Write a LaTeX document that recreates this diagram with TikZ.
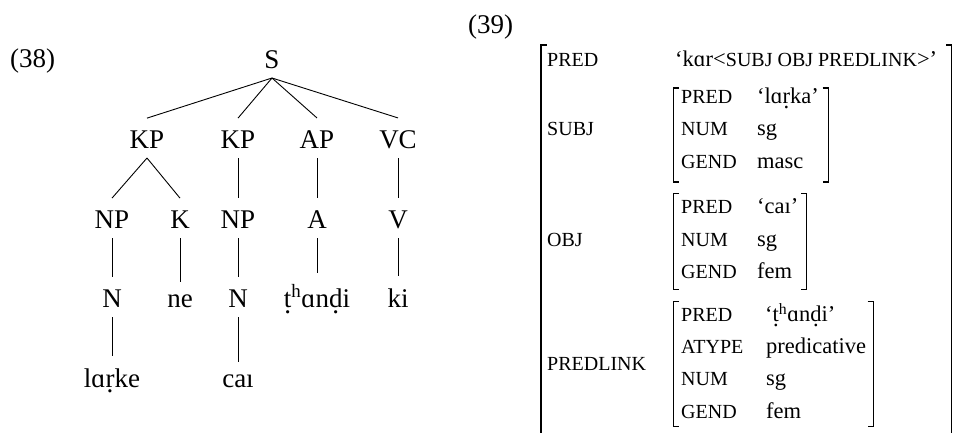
\documentclass[tikz,border=0pt]{standalone}
\usepackage{fontspec}
\setmainfont{Liberation Serif}
\newcommand\dotunder[1]{{\oalign{#1\crcr\hidewidth.\hidewidth}}}
\newcommand\thandi{\dotunder{t}\textsuperscript{h}ɑn\dotunder{d}i}
\newcommand\avsc[1]{{\fontsize{20}{20}\selectfont #1}}
\begin{document}
\begin{tikzpicture}[x=1pt,y=-1pt,
  tn/.style={anchor=base, inner xsep=0pt, inner ysep=12pt, font=\fontsize{27}{30}\selectfont},
  exlab/.style={anchor=base west, inner sep=0pt, font=\fontsize{27}{30}\selectfont},
  attr/.style={anchor=base west, inner sep=0pt, font=\fontsize{20}{20}\selectfont},
  vl/.style={anchor=base west, inner sep=0pt, font=\fontsize{22.5}{24}\selectfont},
  br/.style={line width=1.1pt},
  tedge/.style={line width=0.9pt}]
\useasboundingbox (0,0) rectangle (957,432);
% labels
\node[exlab] (l38) at (10,67) {(38)};
\node[exlab] (l39) at (468,33) {(39)};
% tree
\node[tn] (S) at (272,68) {S};
\node[tn] (KP1) at (147,148) {KP};
\node[tn] (KP2) at (238,148) {KP};
\node[tn] (AP) at (317,148) {AP};
\node[tn] (VC) at (398,148) {VC};
\node[tn] (NP1) at (112,228) {NP};
\node[tn] (K) at (180,228) {K};
\node[tn] (NP2) at (238,228) {NP};
\node[tn] (A) at (317,228) {A};
\node[tn] (V) at (398,228) {V};
\node[tn] (N1) at (112,307) {N};
\node[tn] (ne) at (180,307) {ne};
\node[tn] (N2) at (238,307) {N};
\node[tn] (th) at (317,307) {\thandi};
\node[tn] (ki) at (398,307) {ki};
\node[tn] (larke) at (112,387) {lɑ\dotunder{r}ke};
\node[tn] (cai) at (238,387) {caı};
\foreach \a/\b in {S/KP1,S/KP2,S/AP,S/VC,KP1/NP1,KP1/K,KP2/NP2,AP/A,VC/V,NP1/N1,K/ne,NP2/N2,A/th,V/ki,N1/larke,N2/cai}
  \draw[tedge] ([yshift=-10pt]\a.base) -- (\b.north);
% AVM outer
\draw[br] (546.5,45) -- (541,45) -- (541,440);
\draw[br] (946.2,45) -- (951.7,45) -- (951.7,440);
\node[attr] (oPRED) at (547,66.7) {PRED};
\node[vl] (oPREDv) at (675,66.7) {‘kɑr\textless\avsc{SUBJ OBJ PREDLINK}\textgreater’};
\node[attr] (oSUBJ) at (547,135) {SUBJ};
\node[attr] (oOBJ) at (547,246.7) {OBJ};
\node[attr] (oPL) at (547,370) {PREDLINK};
% SUBJ
\draw[br] (679,88) -- (673.3,88) -- (673.3,182) -- (679,182);
\draw[br] (822.6,88) -- (828.3,88) -- (828.3,182) -- (822.6,182);
\node[attr] (s1) at (681,103.3) {PRED};
\node[vl] (s1v) at (757,103.3) {‘lɑ\dotunder{r}ka’};
\node[attr] (s2) at (681,135) {NUM};
\node[vl] (s2v) at (757,135) {sg};
\node[attr] (s3) at (681,168.3) {GEND};
\node[vl] (s3v) at (757,168.3) {masc};
% OBJ
\draw[br] (679,193.3) -- (673.3,193.3) -- (673.3,289.3) -- (679,289.3);
\draw[br] (801,193.3) -- (806.7,193.3) -- (806.7,289.3) -- (801,289.3);
\node[attr] (o1) at (681,213.5) {PRED};
\node[vl] (o1v) at (757,213.5) {‘caı’};
\node[attr] (o2) at (681,246.7) {NUM};
\node[vl] (o2v) at (757,246.7) {sg};
\node[attr] (o3) at (681,278.3) {GEND};
\node[vl] (o3v) at (757,278.3) {fem};
% PREDLINK
\draw[br] (679,301.7) -- (673.3,301.7) -- (673.3,426.7) -- (679,426.7);
\draw[br] (867.6,301.7) -- (873.3,301.7) -- (873.3,426.7) -- (867.6,426.7);
\node[attr] (p1) at (681,321.7) {PRED};
\node[vl] (p1v) at (765,321.7) {‘\thandi’};
\node[attr] (p2) at (681,353.3) {ATYPE};
\node[vl] (p2v) at (766,353.3) {predicative};
\node[attr] (p3) at (681,385.7) {NUM};
\node[vl] (p3v) at (766,385.7) {sg};
\node[attr] (p4) at (681,418.3) {GEND};
\node[vl] (p4v) at (766,418.3) {fem};
\end{tikzpicture}
\end{document}
